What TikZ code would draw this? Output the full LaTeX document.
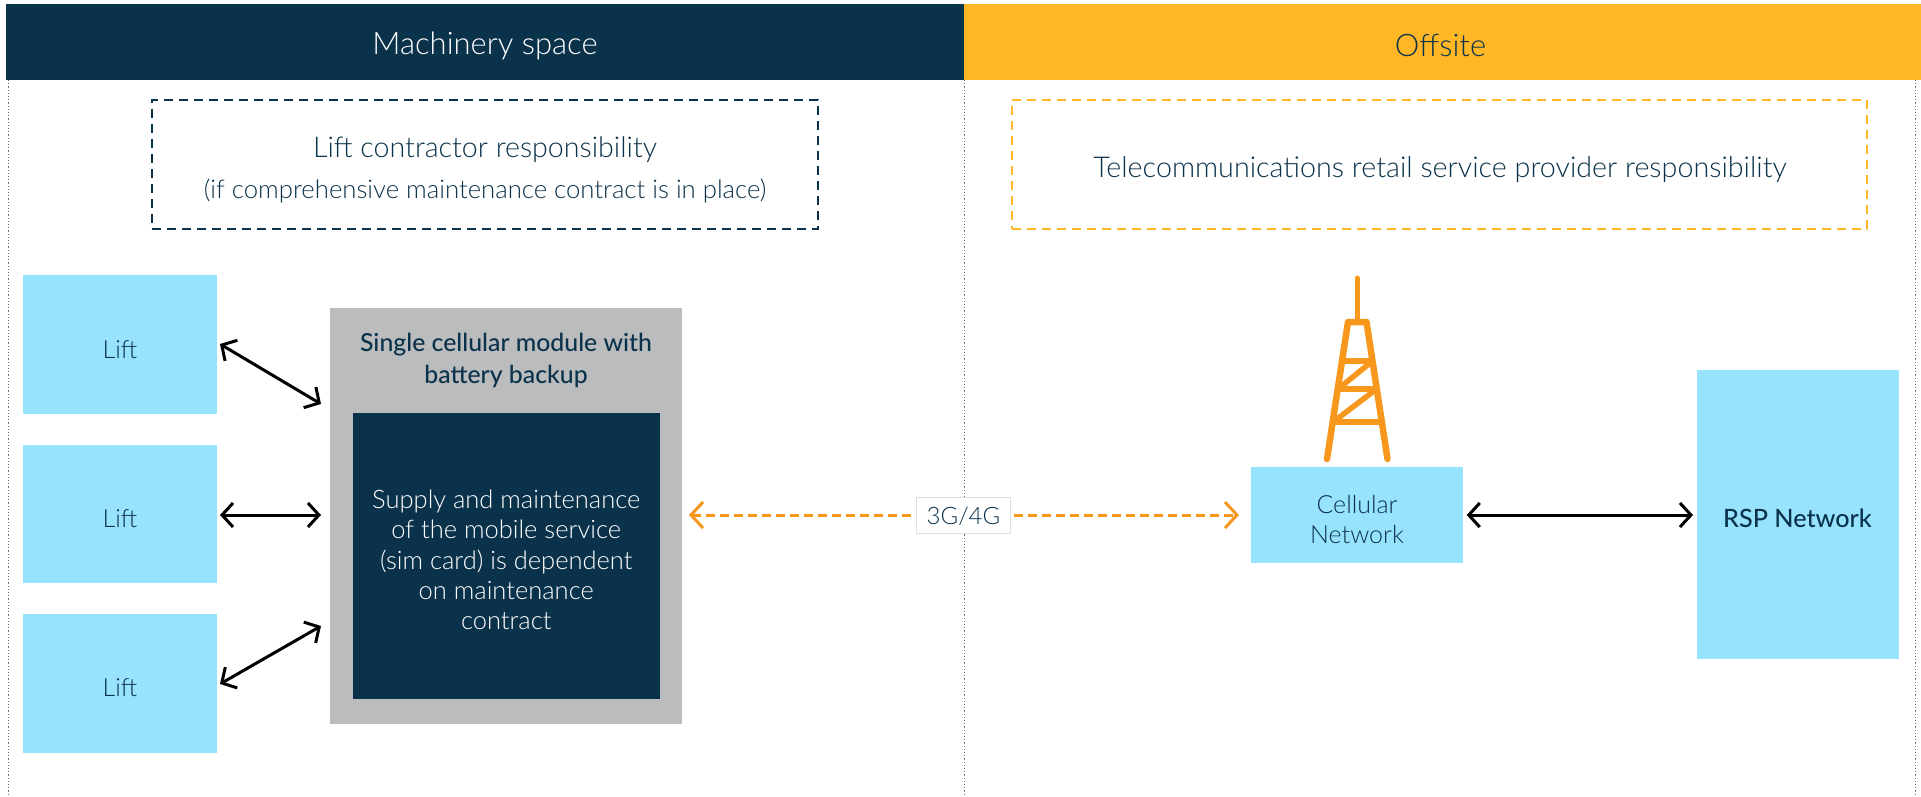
\documentclass[tikz,border=0pt]{standalone}
\usepackage{fontspec}
\setmainfont{Lato}[UprightFont=* Light,BoldFont=* Medium]
\definecolor{navy}{HTML}{0B324B}
\definecolor{amber}{HTML}{FFB726}
\definecolor{orangeline}{HTML}{F7981D}
\definecolor{sky}{HTML}{97E2FC}
\definecolor{greybox}{HTML}{BBBCBE}
\definecolor{dotline}{HTML}{5A7386}
\usetikzlibrary{arrows.meta}
\tikzset{
  band/.style={rectangle,inner sep=0pt,minimum height=76pt},
  bandtext/.style={inner sep=0pt,font=\fontsize{31}{36}\selectfont},
  respbox/.style={rectangle,dash pattern=on 9pt off 6pt,line width=2.4pt,inner sep=0pt,minimum height=129pt},
  skybox/.style={rectangle,fill=sky,inner sep=0pt},
  skytext/.style={text=navy,align=center,inner sep=0pt,font=\fontsize{25}{30}\selectfont},
  twohead/.style={line width=3pt,black,{Straight Barb[length=11pt,width=24pt,line width=3pt]}-{Straight Barb[length=11pt,width=24pt,line width=3pt]}},
  radiotip/.style={-{Straight Barb[length=12pt,width=26pt,line width=3pt]},orangeline,line width=3pt,dash pattern=on 9pt off 5pt},
  divider/.style={dotline,line width=1pt,dash pattern=on 1.2pt off 2pt},
  tower/.style={orangeline,line width=6.5pt,line cap=round,line join=round},
  towerbar/.style={orangeline,line width=5.5pt},
}
\begin{document}
\begin{tikzpicture}[x=1pt,y=-1pt]
\useasboundingbox (0,0) rectangle (1921,797);
\fill[white] (0,0) rectangle (1921,797);
% dividers
\coordinate (d1t) at (8,80);  \coordinate (d1b) at (8,797);
\coordinate (d2t) at (964,80); \coordinate (d2b) at (964,797);
\coordinate (d3t) at (1915,80); \coordinate (d3b) at (1915,797);
\draw[divider] (d1t) -- (d1b);
\draw[divider] (d2t) -- (d2b);
\draw[divider] (d3t) -- (d3b);
% header bands
\node[band,fill=navy,minimum width=958pt] (mach) at (484.5,42) {};
\node[bandtext,text=white] (macht) at (485,45.5) {Machinery space};
\node[band,fill=amber,minimum width=958pt] (off) at (1442.5,42) {};
\node[bandtext,text=navy] (offt) at (1440.5,45) {Offsite};
% responsibility boxes
\node[respbox,draw=navy,minimum width=666pt] (lcr) at (485,164.5) {};
\node[text=navy,inner sep=0pt,font=\fontsize{28.6}{32}\selectfont] (lcrt) at (485,150) {Lift contractor responsibility};
\node[text=navy,inner sep=0pt,font=\fontsize{25.7}{28}\selectfont] (lcrs) at (485,191) {(if comprehensive maintenance contract is in place)};
\node[respbox,draw=amber,minimum width=855pt] (trs) at (1439.5,164.5) {};
\node[text=navy,inner sep=0pt,font=\fontsize{28.7}{32}\selectfont] (trst) at (1440,170) {Telecommunications retail service provider responsibility};
% lifts
\node[skybox,minimum width=194pt,minimum height=139.5pt] (l1) at (120,344.25) {};
\node[skybox,minimum width=194pt,minimum height=138pt] (l2) at (120,514) {};
\node[skybox,minimum width=194pt,minimum height=138.5pt] (l3) at (120,683.25) {};
\node[skytext] (l1t) at (120,350) {Lift};
\node[skytext] (l2t) at (120,519) {Lift};
\node[skytext] (l3t) at (120,688) {Lift};
% module
\node[rectangle,fill=greybox,inner sep=0pt,minimum width=352pt,minimum height=416.5pt] (mod) at (506,515.75) {};
\node[text=navy,align=center,inner sep=0pt,font=\fontsize{24.8}{32}\bfseries\selectfont] (modt) at (506,360.5) {Single cellular module with\\battery backup};
\node[rectangle,fill=navy,inner sep=0pt,minimum width=307.5pt,minimum height=286.5pt] (sup) at (506.25,556) {};
\node[text=white,inner sep=0pt,align=center,font=\fontsize{25.5}{30.4}\selectfont] (supt) at (506.25,560) {Supply and maintenance\\of the mobile service\\(sim card) is dependent\\on maintenance\\contract};
% cellular and RSP
\node[skybox,minimum width=212pt,minimum height=96pt] (cell) at (1357,515) {};
\node[skytext] (cellt) at (1357,520) {Cellular\\Network};
\node[skybox,minimum width=202pt,minimum height=289pt] (rsp) at (1797.5,514.5) {};
\node[text=navy,inner sep=0pt,font=\fontsize{25.2}{30}\bfseries\selectfont] (rspt) at (1797.5,518.5) {RSP Network};
% black arrows
\coordinate (a1s) at (220,344); \coordinate (a1e) at (321,404);
\coordinate (a2s) at (220,515); \coordinate (a2e) at (321,515);
\coordinate (a3s) at (220,684); \coordinate (a3e) at (321,626);
\coordinate (a4s) at (1466.7,515); \coordinate (a4e) at (1693,515);
\draw[twohead] (a1s) -- (a1e);
\draw[twohead] (a2s) -- (a2e);
\draw[twohead] (a3s) -- (a3e);
\draw[twohead] (a4s) -- (a4e);
% 3G/4G link
\node[rectangle,draw=black!12,line width=0.8pt,fill=white,inner sep=0pt,minimum width=94pt,minimum height=36pt] (g) at (963.5,515) {};
\node[text=navy,inner sep=0pt,font=\fontsize{24}{28}\selectfont] (gt) at (963.5,516) {3G/4G};
\coordinate (ltip) at (689,515);
\coordinate (rtip) at (1239,515);
\coordinate (lend) at (911,515);
\coordinate (rend) at (1014,515);
\draw[radiotip] (lend) -- (ltip);
\draw[radiotip] (rend) -- (rtip);
% tower
\coordinate (mtop) at (1357,278); \coordinate (mbot) at (1357,322);
\coordinate (tl) at (1348,322); \coordinate (tr) at (1366.5,322);
\coordinate (bl) at (1327,459); \coordinate (br) at (1387.5,459);
\coordinate (b1l) at (1342,361); \coordinate (b1r) at (1372.5,361);
\coordinate (b2l) at (1338,389); \coordinate (b2r) at (1376.5,389);
\coordinate (b3l) at (1333,422); \coordinate (b3r) at (1381.5,422);
\draw[tower,line width=5pt] (mtop) -- (mbot);
\draw[tower] (bl) -- (tl) -- (tr) -- (br);
\draw[towerbar] (b1l) -- (b1r);
\draw[towerbar] (b2l) -- (b2r);
\draw[towerbar] (b3l) -- (b3r);
\draw[towerbar] (b2l) -- (b1r);
\draw[towerbar] (b3l) -- (b2r);
\end{tikzpicture}
\end{document}
